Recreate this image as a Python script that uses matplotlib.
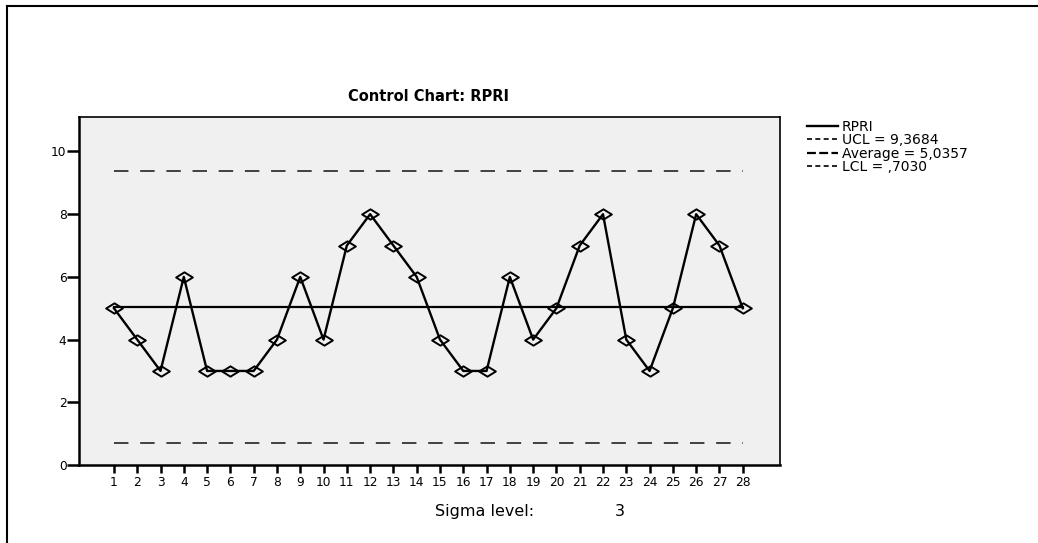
import matplotlib
matplotlib.use("Agg")
import matplotlib.pyplot as plt
from matplotlib.path import Path
from matplotlib.lines import Line2D
import numpy as np

plt.rcParams['font.family'] = ['DejaVu Sans']

samples = list(range(1, 29))
rpri = [5, 4, 3, 6, 3, 3, 3, 4, 6, 4, 7, 8, 7, 6, 4, 3, 3, 6, 4, 5, 7, 8, 4, 3, 5, 8, 7, 5]
ucl = 9.3684
avg = 5.0357
lcl = 0.7030
yticks = [0, 2, 4, 6, 8, 10]
title = "Control Chart: RPRI"
legend_labels = ["RPRI", "UCL = 9,3684", "Average = 5,0357", "LCL = ,7030"]

W, H = 1038, 543
fig = plt.figure(figsize=(W / 100, H / 100), dpi=100)

# outer frame (top and left lines)
fig.add_artist(Line2D([7 / W, 1.0], [1 - 6 / H, 1 - 6 / H], color='black', lw=1.5))
fig.add_artist(Line2D([7 / W, 7 / W], [0, 1 - 6 / H], color='black', lw=1.5))

left, right, top, bottom = 79, 780, 117, 465
ax = fig.add_axes([left / W, 1 - bottom / H, (right - left) / W, (bottom - top) / H])
ax.set_facecolor('#f0f0f0')
ax.set_xlim(-0.5, 29.6)
ax.set_ylim(0, 11.1)

diamond = Path([(-1, 0), (0, 0.62), (1, 0), (0, -0.62), (-1, 0)],
               [Path.MOVETO, Path.LINETO, Path.LINETO, Path.LINETO, Path.CLOSEPOLY])

xs = np.array(samples)
ax.plot([xs[0], xs[-1]], [ucl, ucl], color='#333333', lw=1.3, dashes=(8, 6.5))
ax.plot([xs[0], xs[-1]], [lcl, lcl], color='#333333', lw=1.3, dashes=(8, 6.5))
ax.plot([xs[0], xs[-1]], [avg, avg], color='black', lw=1.6)
ax.plot(xs, rpri, color='black', lw=1.7, marker=diamond, markersize=12,
        markerfacecolor='none', markeredgecolor='black', markeredgewidth=1.4, zorder=5)

ax.set_xticks(samples)
ax.set_xticklabels([str(s) for s in samples])
ax.set_yticks(yticks)
ax.tick_params(axis='x', direction='out', length=6, width=1.8, labelsize=8.8, pad=2)
ax.tick_params(axis='y', direction='out', length=8.5, width=1.8, labelsize=8.8, pad=0.5)
for s in ['left', 'bottom']:
    ax.spines[s].set_linewidth(1.8)
for s in ['top', 'right']:
    ax.spines[s].set_linewidth(1.2)

fig.text(429 / W, 1 - 101 / H, title, ha='center', va='baseline', fontsize=10.5, fontweight='bold')
fig.text(435 / W, 1 - 516 / H, "Sigma level:", ha='left', va='baseline', fontsize=11.5)
fig.text(620 / W, 1 - 516 / H, "3", ha='center', va='baseline', fontsize=11.5)

h_data = Line2D([], [], color='black', lw=1.7)
h_ucl = Line2D([], [], color='black', lw=1.2, dashes=(3, 2))
h_avg = Line2D([], [], color='black', lw=1.6, dashes=(4, 1.5))
h_lcl = Line2D([], [], color='black', lw=1.2, dashes=(3, 2))
fig.legend([h_data, h_ucl, h_avg, h_lcl], legend_labels,
           loc='upper left', bbox_to_anchor=(807 / W, 1 - 120 / H),
           frameon=False, prop={'size': 10},
           handlelength=2.2, handletextpad=0.3,
           labelspacing=-0.05, borderpad=0, borderaxespad=0)

fig.savefig("out.png", dpi=100)
